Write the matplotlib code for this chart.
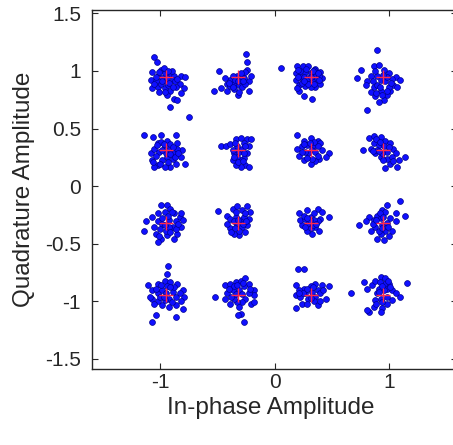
import matplotlib
matplotlib.use("Agg")
import matplotlib.pyplot as plt

plt.rcParams['font.family'] = ['Liberation Sans', 'DejaVu Sans']
plt.rcParams['axes.unicode_minus'] = False

# ideal 16-QAM levels (same for I and Q)
levels = [-0.949, -0.316, 0.316, 0.949]

# received symbols as offsets from their ideal point, in units of 0.01
# one list per row (Q = 0.949, 0.316, -0.316, -0.949), clusters from left to right
row_q_top = [
    [(-10, 17), (-8, 13), (-12, 4), (-13, -3), (-12, -10), (-7, 1), (-4, 6), (-1, 3),
     (3, 2), (7, 1), (13, 1), (17, 0), (12, -6), (16, -10), (9, -9), (4, -12),
     (1, -16), (7, -19), (10, -20), (4, -26), (-7, -9), (-4, -6), (0, -4), (-9, -4),
     (-3, -1), (1, -1), (6, -3), (-6, -13), (-1, -10), (13, -14), (20, -35),
     (-2, 8), (5, 5), (-10, -6), (2, -7), (8, -4), (-6, 4), (-3, -4), (3, -5),
     (6, -9), (-1, -13), (10, -2), (-9, 0), (2, 5)],
    [(7, 20), (8, 13), (-17, 5), (-21, -12), (-10, -12), (-4, -11), (0, -16), (9, -12),
     (9, -4), (8, 6), (3, 2), (5, -1), (-2, -1), (-7, -3), (-12, -1), (-10, -6),
     (-4, -6), (1, -7), (3, -9), (6, -6), (2, -3), (-1, 1), (-5, 1), (11, 1),
     (-15, -10), (1, -13), (-7, -8), (6, 4), (-3, -3), (0, -4), (4, -4), (-8, -5),
     (2, 3), (-5, -9)],
    [(-26, 8), (-6, -17), (1, -19), (-12, 9), (-7, 9), (-2, 9), (4, 7), (8, 4),
     (10, -1), (8, -6), (4, -9), (0, -9), (-5, -8), (-10, -7), (-13, -3), (-13, 3),
     (-9, 1), (-5, 4), (0, 3), (4, 1), (5, -3), (1, -4), (-3, -3), (-7, -3),
     (-10, -12), (3, 6), (-6, 0), (-2, -1), (-12, -10), (7, 1), (-9, 5), (-11, 6),
     (-4, 7), (2, 5), (6, 3), (-8, -5), (-2, -6), (3, -6), (7, -3), (-11, 0),
     (0, 0), (-6, -4)],
    [(-5, 23), (-14, -29), (-23, -1), (-19, 6), (-8, 9), (-4, 10), (1, 6), (5, 3),
     (11, 0), (15, -3), (9, -7), (6, -12), (3, -16), (1, -20), (-4, -22), (-7, -17),
     (-11, -13), (-8, -9), (-14, -4), (-11, 1), (-5, 1), (-2, -3), (2, -4), (5, -9),
     (-2, -12), (-5, -7), (8, -2), (-15, -7), (12, -9), (-1, -16), (3, 0), (-7, 5),
     (0, 2), (-3, -9), (3, -12), (-6, -14), (7, -5), (-9, -4)],
]
row_q_upper = [
    [(-19, 13), (-11, 11), (-7, 6), (-4, 13), (1, 8), (9, 13), (10, 6), (14, 0),
     (13, -6), (9, -12), (4, -15), (-1, -15), (-7, -13), (-12, -9), (-13, -3), (-10, 1),
     (-6, -2), (-1, 3), (3, 0), (7, -3), (1, -6), (-3, -9), (6, -8), (-9, -5),
     (17, -12), (10, 1), (-4, 7), (4, 5), (-10, -15), (0, -3), (-8, 4), (-3, 0),
     (4, -4), (8, -6), (-5, -12), (2, -11), (11, -3), (-11, -11), (6, 2), (-2, 5)],
    [(-15, 3), (-11, 3), (-7, 5), (-2, 9), (2, 10), (8, 9), (11, 9), (9, 3),
     (8, -3), (5, -7), (6, -13), (2, -15), (-2, -13), (-5, -9), (-4, -3), (1, -2),
     (3, 1), (-1, 3), (-5, 0), (2, -9), (9, -15), (5, 6), (-1, -6), (-3, 6),
     (5, -3), (0, -11), (-4, -6), (4, -10), (6, 3)],
    [(-12, 13), (-6, 8), (0, 10), (6, 8), (8, 6), (10, 0), (16, -3), (13, -6),
     (7, -8), (4, -10), (0, -12), (-6, -9), (-10, -5), (-12, 1), (-8, 3), (-3, 4),
     (1, 1), (4, -2), (-2, -3), (-5, -2), (3, 4), (6, 3), (1, -8), (-8, -2),
     (-3, -7), (3, 7), (-1, 6), (6, -5), (-6, 5)],
    [(-18, 0), (-12, 10), (-8, 12), (-2, 11), (2, 8), (6, 6), (9, 1), (11, -3),
     (19, -6), (14, -9), (12, -15), (6, -12), (2, -16), (3, -8), (-2, -6), (-7, -3),
     (-11, 1), (-8, 6), (-4, 4), (1, 3), (3, -2), (-5, 0), (8, -6), (-1, -3),
     (-6, 9), (-3, 7), (5, 2), (-9, -1), (0, -9), (9, -10), (-4, -1)],
]
row_q_lower = [
    [(-17, 1), (-19, -7), (-4, 15), (1, 15), (4, 12), (-7, 8), (-1, 9), (7, 8),
     (12, 5), (15, 2), (13, -4), (10, -10), (7, -14), (1, -11), (-4, -14), (-7, -17),
     (-9, -10), (-10, -4), (-7, 1), (-3, -1), (3, 2), (6, -4), (0, -7), (9, 1),
     (-12, 5), (3, -4), (-3, 4), (13, 8), (-5, -6), (9, -6), (2, 6), (5, 9),
     (-1, -2), (-6, -12), (4, -8), (11, -1)],
    [(-18, 10), (-10, 6), (-5, 12), (-1, 14), (3, 11), (8, 14), (10, 9), (9, 3),
     (8, -2), (6, -8), (1, -11), (-4, -10), (-7, -5), (-10, -1), (-7, 3), (-2, 5),
     (2, 2), (-1, -2), (3, -4), (-4, 1), (5, 5), (1, -7), (-2, 9), (6, 8),
     (-6, -8), (4, -1), (-3, -5), (7, 1), (0, 2)],
    [(-10, 8), (-3, 11), (6, 12), (10, 9), (16, 5), (8, 3), (6, 1), (7, -7),
     (1, -10), (-3, -7), (-8, -2), (-9, 2), (-5, 3), (0, 5), (3, 2), (-2, -1),
     (-5, -4), (4, -4), (0, -5), (3, 8), (-6, 6), (-1, 2), (2, -2), (-3, 4),
     (5, -1)],
    [(15, 19), (3, 15), (-1, 11), (-5, 6), (-12, 5), (-21, -2), (-15, 1), (-8, 2),
     (-2, 4), (2, 9), (6, 4), (11, 1), (19, 6), (8, -7), (2, -7), (-2, -10),
     (-5, -14), (1, -15), (5, -12), (-11, -7), (-7, -4), (-1, -2), (3, 0), (11, 8),
     (-4, -7), (-3, 8), (0, 5), (-9, -1), (-1, -5), (4, -4), (-6, 2)],
]
row_q_bottom = [
    [(2, 26), (1, 19), (-12, -23), (-9, -17), (9, -19), (15, -12), (-16, 9), (-12, 5),
     (-7, 10), (-1, 13), (4, 12), (10, 10), (15, 5), (16, -1), (13, -5), (9, -8),
     (3, -10), (-3, -8), (-7, -5), (-12, -3), (-7, 2), (-3, 5), (1, 8), (6, 3),
     (9, -1), (3, -3), (-1, -4), (-5, -1), (7, 7), (-14, -1), (0, 2), (-4, 9),
     (4, 7), (12, 2), (-9, 6), (5, -6), (-2, -1), (-10, -7)],
    [(-20, -1), (-12, 9), (-7, 10), (-2, 12), (2, 13), (6, 15), (9, 10), (14, 5),
     (14, 0), (9, 2), (6, -3), (3, -6), (-1, -6), (-4, -3), (-10, 2), (-12, -3),
     (-7, -7), (1, -10), (2, -16), (5, -23), (0, -17), (11, -7), (-5, 5), (1, 5),
     (5, 8), (-4, 8), (14, -6), (-8, 6), (-1, 9), (4, 11), (3, 1), (-2, 1),
     (10, 6), (-6, -1)],
    [(-11, 23), (-6, 23), (-13, -11), (-8, -7), (6, -8), (8, -5), (13, -3), (16, 8),
     (10, 9), (4, 10), (0, 8), (-6, 6), (-10, 5), (-13, 0), (-9, -1), (-5, 2),
     (1, 3), (6, 5), (8, 2), (4, -1), (-2, -3), (-3, -7), (3, -5), (-13, 9),
     (-3, 6), (2, 7), (11, 5), (-7, 2), (0, -2), (-10, 2)],
    [(-28, 2), (-17, 12), (-14, 6), (-10, 9), (-7, 13), (-2, 16), (2, 15), (5, 10),
     (3, 6), (1, 5), (-4, 6), (8, 5), (11, 2), (15, -1), (21, 11), (8, -4),
     (3, -7), (-1, -11), (-2, -14), (-8, -10), (-12, -14), (-14, -13), (-7, -4), (-2, -3),
     (-5, 2), (1, 10), (3, -1), (-3, 12), (-1, 8), (4, 13), (-4, 3), (6, 7),
     (-1, -6), (-6, -7)],
]

rows = [row_q_top, row_q_upper, row_q_lower, row_q_bottom]
q_levels = levels[::-1]

rx, ry = [], []
for q, row in zip(q_levels, rows):
    for i, cluster in zip(levels, row):
        for dx, dy in cluster:
            rx.append(i + dx / 100)
            ry.append(q + dy / 100)

ix = [i for q in levels for i in levels]
iy = [q for q in levels for i in levels]

fig = plt.figure(figsize=(4.53, 4.45), dpi=100)
ax = fig.add_axes([92 / 453, 76 / 445, 365 / 453, 359 / 445])

ax.plot(rx, ry, 'o', ls='none', ms=4.2, mfc='#1010ff', mec='#000090', mew=0.5)
ax.plot(ix, iy, '+', ls='none', ms=10, mew=1.0, color='#ff2a50')

ax.set_xlim(-1.594, 1.594)
ax.set_ylim(-1.587, 1.529)
ax.set_xticks([-1, 0, 1])
ax.set_xticklabels(['-1', '0', '1'])
ax.set_yticks([-1.5, -1, -0.5, 0, 0.5, 1, 1.5])
ax.set_yticklabels(['-1.5', '-1', '-0.5', '0', '0.5', '1', '1.5'])

txt = '#262626'
ax.tick_params(direction='in', length=4, width=0.8, top=True, right=True,
               labelsize=15, colors=txt)
ax.tick_params(axis='x', pad=3)
ax.tick_params(axis='y', pad=8)
for s in ax.spines.values():
    s.set_linewidth(1.0)
    s.set_color('#262626')

ax.set_xlabel('In-phase Amplitude', fontsize=17.5, color=txt, va='top')
ax.set_ylabel('Quadrature Amplitude', fontsize=17.5, color=txt)
ax.xaxis.set_label_coords(0.49, -0.078)
ax.yaxis.set_label_coords(-0.155, 0.5)

fig.savefig('out.png', dpi=100)
